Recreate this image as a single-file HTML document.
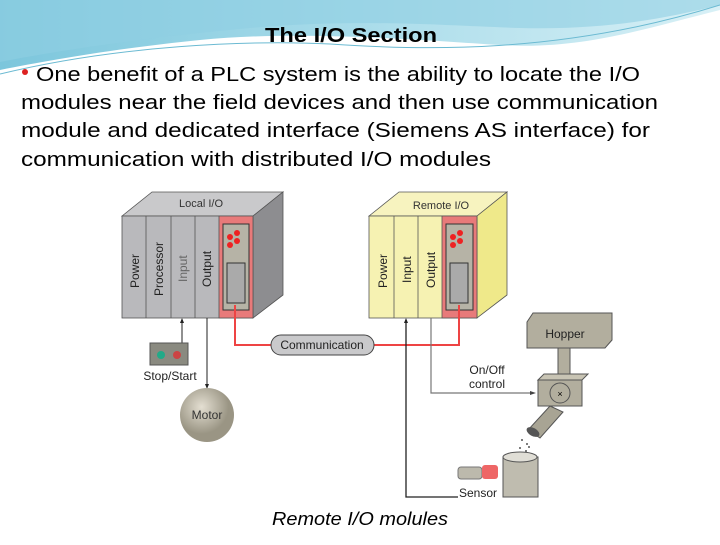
<!DOCTYPE html>
<html><head><style>
body{margin:0;width:720px;height:540px;overflow:hidden;background:#fff;font-family:"Liberation Sans",sans-serif}
</style></head><body>
<svg width="720" height="540" viewBox="0 0 720 540" xmlns="http://www.w3.org/2000/svg" font-family="Liberation Sans, sans-serif">
<defs>
<linearGradient id="hd" x1="0" y1="0" x2="1" y2="0"><stop offset="0" stop-color="#7cc6dc"/><stop offset="0.5" stop-color="#a9dcea"/><stop offset="1" stop-color="#d8f0f6"/></linearGradient>
<radialGradient id="mo" cx="0.4" cy="0.35"><stop offset="0" stop-color="#e4dfd2"/><stop offset="1" stop-color="#9a9584"/></radialGradient>
</defs>
<path d="M0 0H720V10C640 30 580 50 500 45C420 40 300 30 200 40C120 48 50 60 0 70Z" fill="url(#hd)"/>
<path d="M0 0H720V5C660 20 600 30 520 28C450 26 360 18 250 28C150 37 60 50 0 62Z" fill="#8fcfe2" opacity="0.6"/>
<path d="M0 74C120 45 250 40 330 44C420 50 560 55 720 5" stroke="#6bbad2" fill="none" stroke-width="1"/>
<text x="265" y="42" font-size="20" font-weight="bold" textLength="172" lengthAdjust="spacingAndGlyphs">The I/O Section</text>
<g font-size="20">
<circle cx="25" cy="72" r="3" fill="#d22"/>
<text x="36" y="81" textLength="604" lengthAdjust="spacingAndGlyphs">One benefit of a PLC system is the ability to locate the I/O</text>
<text x="21" y="109" textLength="637" lengthAdjust="spacingAndGlyphs">modules near the field devices and then use communication</text>
<text x="21" y="137" textLength="629" lengthAdjust="spacingAndGlyphs">module and dedicated interface (Siemens AS interface)  for</text>
<text x="21" y="166" textLength="470" lengthAdjust="spacingAndGlyphs">communication with distributed  I/O modules</text>
</g>
<!-- Local box -->
<polygon points="122,216 152,192 283,192 253,216" fill="#c9c9cb" stroke="#555" stroke-width="0.8"/>
<polygon points="253,216 283,192 283,295 253,318" fill="#8d8d90" stroke="#555" stroke-width="0.8"/>
<rect x="122" y="216" width="131" height="102" fill="#b9b9bc" stroke="#555" stroke-width="0.8"/>
<rect x="219" y="216" width="34" height="102" fill="#e87a7a" stroke="#555" stroke-width="0.8"/>
<rect x="223" y="224" width="26" height="86" fill="#b6b3a6" stroke="#333"/>
<rect x="227" y="263" width="18" height="40" fill="#aaa" stroke="#333"/>
<g fill="#e22"><circle cx="230" cy="237" r="3"/><circle cx="237" cy="233" r="3"/><circle cx="230" cy="245" r="3"/><circle cx="237" cy="241" r="3"/></g>
<g stroke="#555" stroke-width="0.8"><line x1="146" y1="216" x2="146" y2="318"/><line x1="171" y1="216" x2="171" y2="318"/><line x1="195" y1="216" x2="195" y2="318"/></g>
<text x="201" y="207" font-size="11" fill="#333" text-anchor="middle">Local I/O</text>
<g font-size="12" fill="#222">
<text transform="translate(139,288) rotate(-90)">Power</text>
<text transform="translate(163,296) rotate(-90)">Processor</text>
<text transform="translate(187,282) rotate(-90)" fill="#666">Input</text>
<text transform="translate(211,287) rotate(-90)">Output</text>
</g>
<!-- Remote box -->
<polygon points="369,216 399,192 507,192 477,216" fill="#f7f3bf" stroke="#555" stroke-width="0.8"/>
<polygon points="477,216 507,192 507,295 477,318" fill="#efe98a" stroke="#555" stroke-width="0.8"/>
<rect x="369" y="216" width="108" height="102" fill="#f6f2b2" stroke="#555" stroke-width="0.8"/>
<rect x="442" y="216" width="35" height="102" fill="#e87a7a" stroke="#555" stroke-width="0.8"/>
<rect x="446" y="224" width="27" height="86" fill="#b6b3a6" stroke="#333"/>
<rect x="450" y="263" width="18" height="40" fill="#aaa" stroke="#333"/>
<g fill="#e22"><circle cx="453" cy="237" r="3"/><circle cx="460" cy="233" r="3"/><circle cx="453" cy="245" r="3"/><circle cx="460" cy="241" r="3"/></g>
<g stroke="#555" stroke-width="0.8"><line x1="394" y1="216" x2="394" y2="318"/><line x1="418" y1="216" x2="418" y2="318"/></g>
<text x="441" y="209" font-size="11" fill="#333" text-anchor="middle">Remote I/O</text>
<g font-size="12" fill="#222">
<text transform="translate(387,288) rotate(-90)">Power</text>
<text transform="translate(411,283) rotate(-90)">Input</text>
<text transform="translate(435,288) rotate(-90)">Output</text>
</g>
<!-- communication -->
<polyline points="235,305 235,345 271,345" fill="none" stroke="#e44" stroke-width="2"/>
<polyline points="374,345 459,345 459,305" fill="none" stroke="#e44" stroke-width="2"/>
<rect x="271" y="335" width="103" height="20" rx="10" fill="#c9c9cb" stroke="#444"/>
<text x="322" y="349" font-size="12" text-anchor="middle" fill="#222">Communication</text>
<!-- stop/start -->
<line x1="182" y1="343" x2="182" y2="320" stroke="#222"/><polygon points="182,318 180,323 184,323" fill="#222"/>
<rect x="150" y="343" width="38" height="22" fill="#8a8a80" stroke="#555"/>
<circle cx="161" cy="355" r="4" fill="#2a8"/><circle cx="177" cy="355" r="4" fill="#c44"/>
<text x="170" y="380" font-size="12" text-anchor="middle" fill="#222">Stop/Start</text>
<line x1="207" y1="318" x2="207" y2="386" stroke="#222"/><polygon points="207,389 205,384 209,384" fill="#222"/>
<circle cx="207" cy="415" r="27" fill="url(#mo)"/>
<text x="207" y="419" font-size="12" text-anchor="middle" fill="#333">Motor</text>
<!-- remote input & on/off -->
<polyline points="458,497 406,497 406,320" fill="none" stroke="#222" stroke-width="1.3"/><polygon points="406,318 404,323 408,323" fill="#222"/>
<polyline points="431,318 431,393 532,393" fill="none" stroke="#777" stroke-width="1.2"/><polygon points="536,393 530,391 530,395" fill="#444"/>
<text x="487" y="374" font-size="12" text-anchor="middle" fill="#222">On/Off</text>
<text x="487" y="388" font-size="12" text-anchor="middle" fill="#222">control</text>
<!-- hopper -->
<polygon points="527,348 527,322 533,313 612,313 612,340 605,348" fill="#b2ae9e" stroke="#555"/>
<text x="565" y="338" font-size="12" text-anchor="middle" fill="#222">Hopper</text>
<rect x="558" y="348" width="12" height="30" fill="#b2ae9e" stroke="#555"/>
<polygon points="538,380 544,374 588,374 582,380" fill="#c8c4b4" stroke="#555"/>
<rect x="538" y="380" width="44" height="26" fill="#b2ae9e" stroke="#555"/>
<circle cx="560" cy="393" r="10" fill="none" stroke="#555"/>
<text x="560" y="397" font-size="9" text-anchor="middle">×</text>
<polygon points="550,406 563,412 540,438 528,430" fill="#a8a494" stroke="#555"/>
<ellipse cx="533" cy="432" rx="7" ry="4" fill="#555" transform="rotate(30 533 432)"/>
<g fill="#555"><circle cx="522" cy="440" r="1"/><circle cx="527" cy="444" r="1"/><circle cx="520" cy="448" r="1"/><circle cx="526" cy="451" r="1"/><circle cx="523" cy="455" r="1"/><circle cx="529" cy="447" r="1"/></g>
<rect x="503" y="457" width="35" height="40" fill="#bfbcaf" stroke="#555"/>
<ellipse cx="520" cy="457" rx="17" ry="5" fill="#e0ded6" stroke="#555"/>
<rect x="458" y="467" width="24" height="12" rx="3" fill="#bcb9ac" stroke="#777"/>
<rect x="482" y="465" width="16" height="14" rx="3" fill="#e66"/>
<text x="478" y="497" font-size="12" text-anchor="middle" fill="#222">Sensor</text>
<text x="272" y="525" font-size="18" font-style="italic" textLength="176" lengthAdjust="spacingAndGlyphs">Remote I/O molules</text>
</svg>
</body></html>
